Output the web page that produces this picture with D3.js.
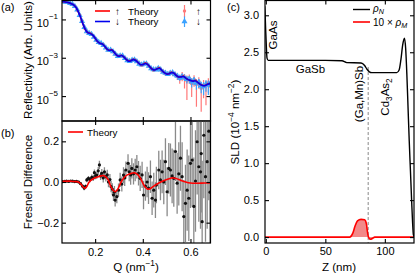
<!DOCTYPE html>
<html><head><meta charset="utf-8">
<script src="https://cdn.jsdelivr.net/npm/d3@7"></script>
<style>
body{margin:0;background:#fff}
svg{display:block;font-family:"Liberation Sans",Arial,sans-serif}
</style></head><body>
<svg id="chart" width="415" height="274"></svg>
<script>
// ---------- Panel (a): reflectivity ----------
const Q_THY_A = [0.06,0.07,0.08,0.09,0.10,0.11,0.12,0.13,0.14,0.15,
  0.16,0.17,0.18,0.19,0.20,0.21,0.22,0.23,0.24,0.25,
  0.26,0.27,0.28,0.29,0.30,0.31,0.32,0.33,0.34,0.35,
  0.36,0.37,0.38,0.39,0.40,0.41,0.42,0.43,0.44,0.45,
  0.46,0.47,0.48,0.49,0.50,0.51,0.52,0.53,0.54,0.55,
  0.56,0.57,0.58,0.59,0.60,0.61,0.62,0.63,0.64,0.65,
  0.66,0.67,0.68,0.69];
// log10 of reflectivity
const THY_DN_LOG = [-0.07,-0.08,-0.10,-0.13,-0.18,-0.24,-0.38,-0.62,-0.93,-1.27,
  -1.55,-1.70,-1.74,-1.82,-1.98,-2.15,-2.25,-2.28,-2.40,-2.55,
  -2.62,-2.60,-2.72,-2.86,-2.93,-2.88,-2.95,-3.08,-3.18,-3.16,
  -3.10,-3.14,-3.25,-3.36,-3.36,-3.30,-3.35,-3.48,-3.60,-3.64,
  -3.58,-3.55,-3.66,-3.78,-3.85,-3.84,-3.78,-3.80,-3.92,-4.00,
  -4.00,-3.98,-4.06,-4.14,-4.18,-4.22,-4.20,-4.28,-4.38,-4.45,
  -4.46,-4.40,-4.35,-4.36];
const THY_UP_LOG = [-0.07,-0.08,-0.10,-0.13,-0.18,-0.24,-0.38,-0.62,-0.93,-1.27,
  -1.55,-1.69,-1.72,-1.82,-1.98,-2.15,-2.24,-2.27,-2.40,-2.55,
  -2.61,-2.58,-2.72,-2.86,-2.92,-2.87,-2.95,-3.08,-3.17,-3.15,
  -3.08,-3.13,-3.25,-3.36,-3.35,-3.28,-3.34,-3.48,-3.60,-3.63,
  -3.57,-3.53,-3.66,-3.78,-3.84,-3.83,-3.76,-3.80,-3.92,-4.00,
  -3.99,-3.96,-4.06,-4.14,-4.18,-4.21,-4.18,-4.28,-4.38,-4.44,
  -4.45,-4.38,-4.35,-4.36];
const Q_DATA_A = [0.065,0.075,0.085,0.095,0.105,0.115,0.125,0.135,0.145,0.155,
  0.165,0.175,0.185,0.195,0.205,0.215,0.225,0.235,0.245,0.255,
  0.265,0.275,0.285,0.295,0.305,0.315,0.325,0.335,0.345,0.355,
  0.365,0.375,0.385,0.395,0.405,0.415,0.425,0.435,0.445,0.455,
  0.465,0.475,0.485,0.495,0.505,0.515,0.525,0.535,0.545,0.555,
  0.565,0.575,0.585,0.595,0.605,0.615,0.625,0.635,0.645,0.655,
  0.665,0.675,0.685];
const DATA_DN_LOG = [-0.07,-0.09,-0.11,-0.155,-0.21,-0.31,-0.50,-0.78,-1.10,-1.41,
  -1.63,-1.72,-1.78,-1.92,-2.08,-2.19,-2.24,-2.35,-2.48,-2.60,
  -2.59,-2.67,-2.80,-2.92,-2.90,-2.90,-3.03,-3.14,-3.18,-3.12,
  -3.11,-3.20,-3.32,-3.37,-3.31,-3.31,-3.43,-3.56,-3.61,-3.62,
  -3.55,-3.62,-3.74,-3.80,-3.86,-3.80,-3.77,-3.88,-3.95,-4.05,
  -3.96,-4.03,-4.12,-4.10,-4.25,-4.18,-4.32,-4.28,-4.45,-4.50,
  -4.38,-4.42,-4.30];
const DATA_UP_LOG = [-0.07,-0.09,-0.11,-0.16,-0.22,-0.31,-0.52,-0.76,-1.08,-1.45,
  -1.64,-1.70,-1.78,-1.90,-2.07,-2.20,-2.26,-2.33,-2.47,-2.61,
  -2.62,-2.69,-2.82,-2.94,-2.88,-2.92,-3.01,-3.12,-3.19,-3.14,
  -3.09,-3.18,-3.30,-3.40,-3.33,-3.28,-3.45,-3.58,-3.66,-3.58,
  -3.52,-3.64,-3.70,-3.84,-3.82,-3.78,-3.80,-3.85,-3.98,-4.10,
  -3.92,-4.08,-4.20,-4.05,-4.35,-4.12,-4.40,-4.22,-4.60,-4.42,
  -4.48,-4.30,-4.50];
// relative errors dR/R
const ERR_DN_REL = [0.02,0.02,0.02,0.02,0.02,0.03,0.03,0.03,0.03,0.03,
  0.03,0.03,0.03,0.03,0.05,0.05,0.05,0.05,0.05,0.05,
  0.05,0.05,0.05,0.05,0.08,0.08,0.08,0.08,0.08,0.08,
  0.08,0.08,0.08,0.08,0.12,0.12,0.13,0.13,0.13,0.14,
  0.14,0.14,0.15,0.15,0.2,0.2,0.2,0.22,0.25,0.3,
  0.3,0.35,0.4,0.35,0.5,0.45,0.55,0.5,0.6,0.65,
  0.6,0.7,0.65];
const ERR_UP_REL = [0.02,0.02,0.02,0.02,0.02,0.03,0.03,0.03,0.03,0.03,
  0.03,0.03,0.03,0.03,0.05,0.05,0.05,0.05,0.05,0.05,
  0.06,0.06,0.06,0.06,0.09,0.09,0.09,0.09,0.09,0.09,
  0.1,0.1,0.1,0.1,0.14,0.14,0.15,0.15,0.16,0.16,
  0.17,0.18,0.2,0.22,0.25,0.25,0.3,0.3,0.35,0.45,
  0.5,0.7,0.9,0.5,0.8,0.6,0.93,0.6,0.94,0.8,
  0.9,0.7,0.85];
const Y_TICKS_A = [1e-1, 1e-3, 1e-5];
const Y_TICK_EXP_A = ["\u22121", "\u22123", "\u22125"];

// ---------- Panel (b): Fresnel difference ----------
const Q_DATA_B = [0.063,0.072,0.080,0.089,0.097,0.105,0.114,0.122,0.131,
  0.139,0.147,0.154,0.160,0.165,0.172,0.179,0.186,0.192,
  0.197,0.202,0.207,0.213,0.218,0.223,0.228,0.234,0.239,0.245,0.251,
  0.256,0.262,0.267,0.272,0.277,0.281,0.284,0.291,0.298,
  0.305,0.312,0.319,0.324,0.329,0.338,0.343,0.349,
  0.354,0.361,0.368,0.375,0.382,0.389,0.397,
  0.403,0.411,0.418,0.424,0.432,0.439,0.446,0.453,
  0.457,0.467,0.474,0.481,0.488,0.495,0.502,
  0.509,0.516,0.523,0.530,0.537,0.544,0.551,
  0.558,0.565,0.572,0.579,0.586,0.593,0.600,
  0.607,0.614,0.621,0.628,0.635,0.642,0.645,0.649,
  0.656,0.663,0.670,0.677,0.682];
const FD_VAL = [0.002,0.003,0.004,0.003,0.005,0.004,0.002,0.003,0.000,
  -0.008,-0.020,-0.030,-0.022,0.010,0.018,0.012,0.023,0.020,
  0.046,0.030,0.034,0.055,0.084,0.030,0.043,0.020,0.050,0.026,0.035,
  0.000,0.012,-0.023,-0.035,-0.064,-0.050,-0.089,-0.072,-0.040,
  0.010,-0.010,0.034,0.020,0.059,0.092,0.050,0.035,
  0.067,0.040,0.059,0.075,0.043,0.018,0.035,
  -0.064,-0.020,0.000,-0.030,0.026,-0.080,-0.040,-0.089,
  -0.015,0.059,0.010,0.050,0.000,0.100,-0.048,
  0.067,0.059,0.030,0.018,0.150,-0.006,0.040,
  0.117,0.026,-0.170,-0.105,-0.040,-0.080,0.092,
  0.108,-0.120,0.005,0.198,0.075,0.050,0.140,-0.195,
  0.230,0.026,0.100,0.250,-0.050];
const FD_ERR = [0.004,0.004,0.004,0.005,0.005,0.005,0.006,0.006,0.007,
  0.008,0.009,0.01,0.01,0.011,0.012,0.013,0.014,0.015,
  0.016,0.017,0.018,0.019,0.02,0.02,0.021,0.022,0.023,0.024,0.025,
  0.026,0.027,0.028,0.029,0.03,0.03,0.031,0.032,0.033,
  0.035,0.037,0.039,0.04,0.042,0.045,0.046,0.048,
  0.05,0.052,0.055,0.058,0.06,0.062,0.065,
  0.07,0.072,0.075,0.078,0.08,0.082,0.085,0.088,
  0.09,0.095,0.1,0.105,0.11,0.115,0.12,
  0.125,0.13,0.135,0.14,0.145,0.15,0.155,
  0.16,0.17,0.18,0.19,0.2,0.21,0.22,
  0.23,0.24,0.25,0.26,0.27,0.28,0.29,0.3,
  0.31,0.32,0.33,0.34,0.35];
const Q_THY_B = [0.06,0.10,0.12,0.13,0.14,0.15,0.158,0.165,0.175,0.19,
  0.21,0.225,0.235,0.245,0.255,0.265,0.275,0.284,0.295,0.305,
  0.32,0.335,0.35,0.365,0.38,0.39,0.40,0.41,0.42,0.43,
  0.44,0.46,0.48,0.50,0.52,0.53,0.54,0.56,0.58,0.60,
  0.63,0.66,0.69];
const FD_THY = [0.003,0.004,0.002,0.0,-0.01,-0.025,-0.03,-0.022,0.0,0.015,
  0.025,0.03,0.032,0.025,0.01,-0.02,-0.04,-0.048,-0.035,-0.01,
  0.02,0.035,0.042,0.045,0.035,0.018,-0.005,-0.025,-0.035,-0.033,
  -0.025,-0.01,0.002,0.012,0.02,0.02,0.017,0.008,0.0,-0.005,
  -0.006,-0.005,-0.005];
const Q_TICKS = [0.2, 0.4, 0.6];
const Y_TICKS_B = [-0.2, 0.0, 0.2];

// ---------- Panel (c): SLD profile ----------
const Z_N = [-3,-1,0,1,2,50,64,68,80,83,85,87,89,100,110,112,113.5,115,116.5,117.5,118.5,119.5,120.5,121.5,122.5,123.3,124,125];
const RHO_N = [3.15,3.12,2.75,2.42,2.39,2.39,2.385,2.36,2.355,2.32,2.27,2.235,2.225,2.225,2.225,2.26,2.4,2.6,2.69,2.55,2.2,1.75,1.3,0.9,0.5,0.2,0.03,0];
const Z_M = [-3,70.5,73,75,77,80,83,84.5,85.5,86.5,88,89.5,91.5,125];
const RHO_M10 = [0,0,0.05,0.15,0.22,0.24,0.235,0.18,0.06,-0.01,-0.03,-0.02,0,0];
const Z_INTERFACE = 86;
const Z_TICKS = [0, 50, 100];
const SLD_TICKS = [0, 0.5, 1.0, 1.5, 2.0, 2.5, 3.0];

// ---------- drawing ----------
const svg = d3.select("#chart");
const FS_TICK = 11, FS_TITLE = 11.6, FS_LEG = 9.8;

// panel geometry
const A = {l:62, r:210.5, t:0.5, b:121};
const B = {l:62, r:210.5, t:121, b:243};
const C = {l:265, r:414, t:0.5, b:243};

const xQ = d3.scaleLinear().domain([0.061, 0.684]).range([A.l, A.r]);
const yA = d3.scaleLog().domain([Math.pow(10,-6.3), Math.pow(10,-0.013)]).range([A.b, A.t]);
const yB = d3.scaleLinear().domain([-0.3, 0.3]).range([B.b, B.t]);
const xZ = d3.scaleLinear().domain([-0.7, 124.5]).range([C.l, C.r]);
const yC = d3.scaleLinear().domain([-0.08, 3.2]).range([C.b, C.t]);

const defs = svg.append("defs");
function clip(id, P){
  defs.append("clipPath").attr("id", id).append("rect")
    .attr("x", P.l).attr("y", P.t).attr("width", P.r - P.l).attr("height", P.b - P.t);
  return svg.append("g").attr("clip-path", `url(#${id})`);
}

function rich(textSel, parts, fs){
  let shift = 0;
  parts.forEach(p => {
    const target = p.sup ? -0.4*fs : (p.sub ? 0.28*fs : 0);
    const ts = textSel.append("tspan").attr("dy", target - shift)
      .attr("font-size", (p.sup || p.sub) ? fs*0.72 : fs).text(p.t);
    if (p.it) ts.attr("font-style", "italic");
    shift = target;
  });
  return textSel;
}

function axisG(axis, tx, ty){
  const g = svg.append("g").attr("transform", `translate(${tx},${ty})`).call(axis);
  g.select(".domain").remove();
  g.selectAll(".tick line").attr("stroke", "#000").attr("stroke-width", 1.1);
  g.selectAll(".tick text").attr("font-size", FS_TICK).attr("fill", "#000")
    .attr("font-family", '"Liberation Sans", Arial, sans-serif');
  return g;
}
function frame(P){
  svg.append("rect").attr("x", P.l).attr("y", P.t).attr("width", P.r - P.l).attr("height", P.b - P.t)
    .attr("fill", "none").attr("stroke", "#000").attr("stroke-width", 1.2);
}

// ===== Panel A =====
const gA = clip("clipA", A);
const COL_DN = "#3ba2ff", COL_UP = "#ff7878";
const R = v => Math.pow(10, v);
const yMinA = yA.domain()[0];
const dataDn = Q_DATA_A.map((q,i)=>({q, r:R(DATA_DN_LOG[i]), e:ERR_DN_REL[i]}));
const dataUp = Q_DATA_A.map((q,i)=>({q, r:R(DATA_UP_LOG[i]), e:ERR_UP_REL[i]}));

function logBars(g, data, col){
  g.selectAll(null).data(data).join("line")
    .attr("x1", d=>xQ(d.q)).attr("x2", d=>xQ(d.q))
    .attr("y1", d=>yA(d.r*(1+d.e)))
    .attr("y2", d=>yA(Math.max(d.r*(1-d.e), yMinA)))
    .attr("stroke", col).attr("stroke-width", 1.2);
}
logBars(gA, dataUp, COL_UP);
gA.selectAll(null).data(dataUp).join("circle")
  .attr("cx", d=>xQ(d.q)).attr("cy", d=>yA(d.r)).attr("r", 1.7).attr("fill", COL_UP);
logBars(gA, dataDn, COL_DN);
const tri = d3.symbol(d3.symbolTriangle, 16);
gA.selectAll(null).data(dataDn).join("path")
  .attr("d", tri).attr("transform", d=>`translate(${xQ(d.q)},${yA(d.r)})`).attr("fill", COL_DN);

const lineA = d3.line().x(d=>xQ(d[0])).y(d=>yA(R(d[1]))).curve(d3.curveCatmullRom);
gA.append("path").datum(Q_THY_A.map((q,i)=>[q, THY_UP_LOG[i]])).attr("d", lineA)
  .attr("fill","none").attr("stroke","#ff0000").attr("stroke-width",1.6);
gA.append("path").datum(Q_THY_A.map((q,i)=>[q, THY_DN_LOG[i]])).attr("d", lineA)
  .attr("fill","none").attr("stroke","#0000ee").attr("stroke-width",1.6);

// axes A
const axAL = axisG(d3.axisLeft(yA).tickValues(Y_TICKS_A).tickSizeInner(-4).tickSizeOuter(0).tickFormat(()=>""), A.l, 0);
axAL.selectAll(".tick").each(function(d,i){
  const t = d3.select(this).append("text").attr("x", -4).attr("y", 7)
    .attr("text-anchor","end").attr("fill","#000").attr("font-size", FS_TICK);
  t.append("tspan").text("10");
  t.append("tspan").attr("font-size", 8).attr("dy", -7.5).text(Y_TICK_EXP_A[i]);
});
axisG(d3.axisRight(yA).tickValues(Y_TICKS_A).tickSizeInner(-4).tickSizeOuter(0).tickFormat(()=>""), A.r, 0);
axisG(d3.axisTop(xQ).tickValues(Q_TICKS).tickSizeInner(-4).tickSizeOuter(0).tickFormat(()=>""), 0, A.t);
axisG(d3.axisBottom(xQ).tickValues(Q_TICKS).tickSizeInner(-4).tickSizeOuter(0).tickFormat(()=>""), 0, A.b);
frame(A);

// legend A
svg.append("line").attr("x1",95).attr("x2",110).attr("y1",11).attr("y2",11).attr("stroke","#ff0000").attr("stroke-width",1.6);
svg.append("line").attr("x1",95).attr("x2",110).attr("y1",21.5).attr("y2",21.5).attr("stroke","#0000ee").attr("stroke-width",1.6);
const legA = [["\u2191","Theory",14.5],["\u2193","Theory",25]];
legA.forEach(([ar, lab, y])=>{
  svg.append("text").attr("x",115).attr("y",y).attr("font-size",FS_LEG).text(ar);
  svg.append("text").attr("x",128).attr("y",y).attr("font-size",FS_LEG).text(lab);
});
svg.append("line").attr("x1",184.5).attr("x2",184.5).attr("y1",5).attr("y2",17).attr("stroke",COL_UP).attr("stroke-width",1.2);
svg.append("circle").attr("cx",184.5).attr("cy",11).attr("r",1.7).attr("fill",COL_UP);
svg.append("line").attr("x1",184.5).attr("x2",184.5).attr("y1",16.5).attr("y2",27).attr("stroke",COL_DN).attr("stroke-width",1.2);
svg.append("path").attr("d",tri).attr("transform","translate(184.5,21.5)").attr("fill",COL_DN);
svg.append("text").attr("x",196).attr("y",14.5).attr("font-size",FS_LEG).text("\u2191");
svg.append("text").attr("x",196).attr("y",25).attr("font-size",FS_LEG).text("\u2193");

// ===== Panel B =====
const gB = clip("clipB", B);
gB.selectAll(null).data(Q_DATA_B).join("line")
  .attr("x1", d=>xQ(d)).attr("x2", d=>xQ(d))
  .attr("y1", (d,i)=>yB(FD_VAL[i]+FD_ERR[i])).attr("y2", (d,i)=>yB(FD_VAL[i]-FD_ERR[i]))
  .attr("stroke", "#8a8a8a").attr("stroke-width", 1.3);
gB.selectAll(null).data(Q_DATA_B).join("circle")
  .attr("cx", d=>xQ(d)).attr("cy", (d,i)=>yB(FD_VAL[i])).attr("r", 1.6).attr("fill", "#111");
gB.append("path").datum(Q_THY_B.map((q,i)=>[q, FD_THY[i]]))
  .attr("d", d3.line().x(d=>xQ(d[0])).y(d=>yB(d[1])).curve(d3.curveCatmullRom))
  .attr("fill","none").attr("stroke","#ff0000").attr("stroke-width",1.6);

axisG(d3.axisLeft(yB).tickValues(Y_TICKS_B).tickSizeInner(-4).tickSizeOuter(0).tickPadding(3).tickFormat(d3.format(".1f")), B.l, 0);
axisG(d3.axisRight(yB).tickValues(Y_TICKS_B).tickSizeInner(-4).tickSizeOuter(0).tickFormat(()=>""), B.r, 0);
axisG(d3.axisBottom(xQ).tickValues(Q_TICKS).tickSizeInner(-4).tickSizeOuter(0).tickPadding(5).tickFormat(d3.format(".1f")), 0, B.b);
axisG(d3.axisTop(xQ).tickValues(Q_TICKS).tickSizeInner(-4).tickSizeOuter(0).tickFormat(()=>""), 0, B.t);
frame(B);

svg.append("line").attr("x1",68).attr("x2",83).attr("y1",132).attr("y2",132).attr("stroke","#ff0000").attr("stroke-width",1.6);
svg.append("text").attr("x",87).attr("y",135.5).attr("font-size",FS_LEG).text("Theory");

// ===== Panel C =====
const gC = clip("clipC", C);
gC.append("line").attr("x1", xZ(Z_INTERFACE)).attr("x2", xZ(Z_INTERFACE))
  .attr("y1", yC(2.3)).attr("y2", C.b).attr("stroke","#888").attr("stroke-width",1).attr("stroke-dasharray","3,2");
const magPts = Z_M.map((z,i)=>[z, RHO_M10[i]]);
gC.append("path").datum(magPts)
  .attr("d", d3.area().x(d=>xZ(d[0])).y0(yC(0)).y1(d=>yC(d[1])).curve(d3.curveMonotoneX))
  .attr("fill","rgba(232,40,40,0.55)");
gC.append("path").datum(magPts)
  .attr("d", d3.line().x(d=>xZ(d[0])).y(d=>yC(d[1])).curve(d3.curveMonotoneX))
  .attr("fill","none").attr("stroke","#ff0000").attr("stroke-width",1.6);
gC.append("path").datum(Z_N.map((z,i)=>[z, RHO_N[i]]))
  .attr("d", d3.line().x(d=>xZ(d[0])).y(d=>yC(d[1])).curve(d3.curveMonotoneX))
  .attr("fill","none").attr("stroke","#000").attr("stroke-width",1.4);

axisG(d3.axisLeft(yC).tickValues(SLD_TICKS).tickSizeInner(-4).tickSizeOuter(0).tickPadding(6).tickFormat(d3.format(".1f")), C.l, 0);
axisG(d3.axisRight(yC).tickValues(SLD_TICKS).tickSizeInner(-4).tickSizeOuter(0).tickFormat(()=>""), C.r, 0);
axisG(d3.axisBottom(xZ).tickValues(Z_TICKS).tickSizeInner(-4).tickSizeOuter(0).tickPadding(4).tickFormat(d3.format("d")), 0, C.b);
axisG(d3.axisTop(xZ).tickValues(Z_TICKS).tickSizeInner(-4).tickSizeOuter(0).tickFormat(()=>""), 0, C.t);
frame(C);

// region labels
const FS_REG = 11.5;
svg.append("text").attr("transform","translate(277,35) rotate(-90)").attr("text-anchor","middle").attr("font-size",FS_REG).text("GaAs");
svg.append("text").attr("x",310.5).attr("y",73).attr("text-anchor","middle").attr("font-size",FS_REG).text("GaSb");
svg.append("text").attr("transform","translate(363,94) rotate(-90)").attr("text-anchor","middle").attr("font-size",FS_REG).text("(Ga,Mn)Sb");
rich(svg.append("text").attr("transform","translate(389,97) rotate(-90)").attr("text-anchor","middle").attr("font-size",FS_REG),
  [{t:"Cd"},{t:"3",sub:true},{t:"As"},{t:"2",sub:true}], FS_REG);

// legend C
const FS_LEGC = 10;
svg.append("line").attr("x1",353).attr("x2",370).attr("y1",9.5).attr("y2",9.5).attr("stroke","#000").attr("stroke-width",1.4);
svg.append("line").attr("x1",353).attr("x2",370).attr("y1",22).attr("y2",22).attr("stroke","#ff0000").attr("stroke-width",1.6);
rich(svg.append("text").attr("x",373).attr("y",11.5).attr("font-size",FS_LEGC), [{t:"\u03C1",it:true},{t:"N",sub:true,it:true}], FS_LEGC);
rich(svg.append("text").attr("x",373).attr("y",25.5).attr("font-size",FS_LEGC), [{t:"10 \u00D7 "},{t:"\u03C1",it:true},{t:"M",sub:true,it:true}], FS_LEGC);

// ===== titles =====
svg.append("text").attr("transform","translate(32,60) rotate(-90)").attr("text-anchor","middle").attr("font-size",FS_TITLE).text("Reflectivity (Arb. Units)");
svg.append("text").attr("transform","translate(32,182) rotate(-90)").attr("text-anchor","middle").attr("font-size",FS_TITLE).text("Fresnel Difference");
rich(svg.append("text").attr("x",136).attr("y",271).attr("text-anchor","middle").attr("font-size",FS_TITLE),
  [{t:"Q  (nm"},{t:"\u22121",sup:true},{t:")"}], FS_TITLE);
svg.append("text").attr("x",339).attr("y",271).attr("text-anchor","middle").attr("font-size",FS_TITLE).text("Z (nm)");
rich(svg.append("text").attr("transform","translate(239,122) rotate(-90)").attr("text-anchor","middle").attr("font-size",FS_TITLE),
  [{t:"SLD (10"},{t:"\u22124",sup:true},{t:" nm"},{t:"\u22122",sup:true},{t:")"}], FS_TITLE);

// panel labels
svg.append("text").attr("x",1).attr("y",11).attr("font-size",11).text("(a)");
svg.append("text").attr("x",1).attr("y",137).attr("font-size",11).text("(b)");
svg.append("text").attr("x",227).attr("y",11).attr("font-size",11).text("(c)");
</script>
</body></html>
